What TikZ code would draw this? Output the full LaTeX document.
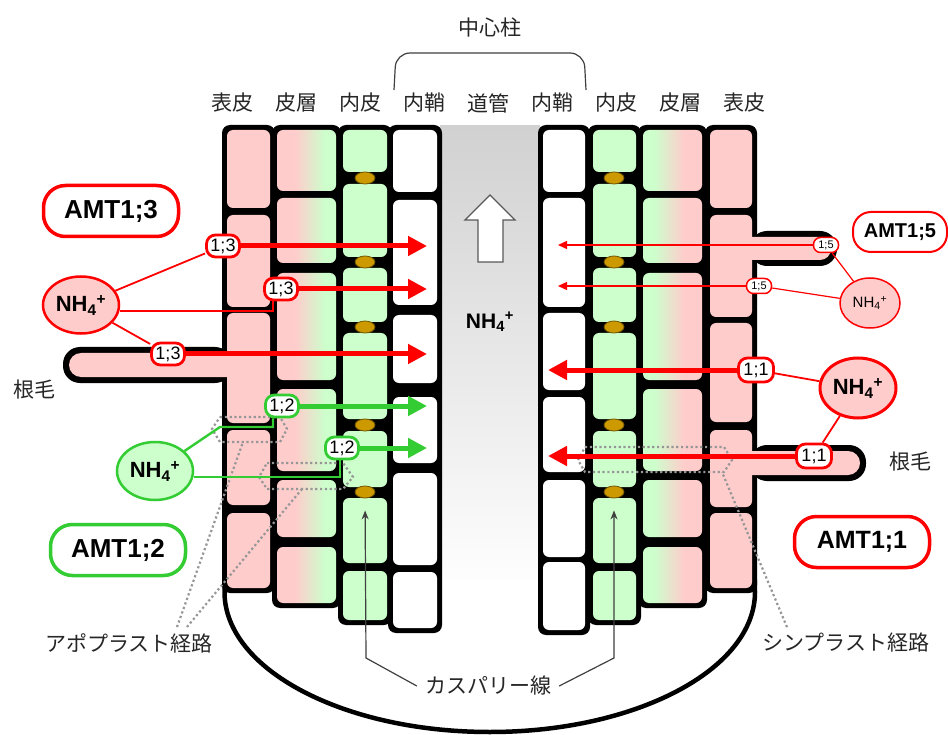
\documentclass[tikz,border=0pt]{standalone}
\usepackage{fontspec}
\setmainfont{Liberation Sans}
\newfontfamily\jpfont{Noto Sans CJK JP}
\usepackage{tikz}
\usetikzlibrary{shapes.geometric,arrows.meta,positioning,calc}

\definecolor{cellpink}{RGB}{255,204,204}
\definecolor{cellgreen}{RGB}{204,255,204}
\definecolor{caspbrown}{RGB}{204,153,0}
\definecolor{amtred}{RGB}{255,0,0}
\definecolor{amtgreen}{RGB}{51,204,51}
\definecolor{routegray}{RGB}{150,150,150}

% cortex cells fade from epidermis pink to endodermis green
\pgfdeclarehorizontalshading{cortexL}{100bp}{color(0bp)=(cellpink); color(40bp)=(cellpink); color(66bp)=(cellgreen); color(100bp)=(cellgreen)}
\pgfdeclarehorizontalshading{cortexR}{100bp}{color(0bp)=(cellgreen); color(34bp)=(cellgreen); color(60bp)=(cellpink); color(100bp)=(cellpink)}

\newcommand{\nhfour}{NH\textsubscript{4}\textsuperscript{+}}

\begin{document}
\begin{tikzpicture}[
    x=1pt, y=-1pt,
    wallblk/.style={fill=black, rounded corners=8pt},
    epicell/.style={fill=cellpink, rounded corners=6pt},
    cortexcell/.style={rounded corners=6pt},
    endocell/.style={fill=cellgreen, rounded corners=6pt},
    pericell/.style={fill=white, rounded corners=6pt},
    caspband/.style={ellipse, draw=caspbrown!55!black, line width=0.8pt, fill=caspbrown, minimum width=20pt, minimum height=12pt, inner sep=0pt},
    jplabel/.style={font=\jpfont\fontsize{21}{24}\selectfont, text=black!85, inner sep=0pt},
    amtpill/.style={draw, fill=white, line width=3.5pt, rounded corners=22pt, minimum width=135pt, minimum height=51pt, inner sep=0pt, font=\bfseries\fontsize{26}{28}\selectfont},
    nhion/.style={ellipse, draw, line width=2.5pt, inner sep=0pt, font=\bfseries\fontsize{22}{24}\selectfont},
    sitebox/.style={draw, fill=white, line width=2.8pt, rounded corners=9pt, minimum width=33pt, minimum height=22pt, inner sep=0pt, font=\fontsize{18}{19}\selectfont},
    tinybox/.style={draw=amtred, fill=white, line width=1.5pt, rounded corners=7pt, minimum width=25pt, minimum height=15pt, inner sep=0pt, font=\fontsize{11}{12}\selectfont},
    uptake/.style={line width=5pt, -{Triangle[length=19pt,width=19pt]}},
    thinuptake/.style={amtred, line width=1.4pt, -{Triangle[length=9pt,width=8pt]}},
    redlink/.style={amtred, line width=1.8pt},
    greenlink/.style={amtgreen, line width=2.4pt},
    routeloop/.style={routegray, line width=2.2pt, dash pattern=on 2.2pt off 2.6pt},
    caspline/.style={black!75, line width=1.2pt, -{Stealth[length=9pt,width=7pt]}},
    bracketline/.style={black!75, line width=1.2pt, rounded corners=14pt}
]
    \useasboundingbox[fill=white] (0,0) rectangle (948,735);

    % Stele (grey centre) and root tip outline
    \shade[top color=black!18, middle color=black!12, bottom color=white] (440,126) rectangle (540,594);
    \draw[line width=4.5pt, fill=white] (224.5,580) -- (224.5,592)
        arc[start angle=180, end angle=0, x radius=265.25, y radius=140] -- (754.75,580);

    % Root hairs (outline)
    \fill[black, rounded corners=17pt] (63,347) rectangle (232,383);
    \fill[black, rounded corners=17pt] (750,231) rectangle (837,266);
    \fill[black, rounded corners=17pt] (750,445) rectangle (866,481);

    % Cell walls
    \foreach \xa/\xb/\yb in {222/275/593, 272/341/608, 338/392/625, 388/442/633,
                             538/590/635, 588/641/625, 638/707/608, 705/757/593}
        \fill[wallblk] (\xa,125) rectangle (\xb,\yb);

    % Epidermis
    \foreach \ya/\yb in {130/208,215/307,313/423,430/505,513/588}
        \fill[epicell] (227,\ya) rectangle (270,\yb);
    \foreach \ya/\yb in {130/208,215/317,323/422,430/507,513/588}
        \fill[epicell] (710,\ya) rectangle (752,\yb);

    % Cortex
    \foreach \ya/\yb in {130/191,198/263,273/380,389/471,480/537,547/603} {
        \shade[cortexcell, shading=cortexL] (277,\ya) rectangle (336,\yb);
        \shade[cortexcell, shading=cortexR] (643,\ya) rectangle (702,\yb);
    }

    % Endodermis
    \foreach \ya/\yb in {130/172,184/257,268/322,333/419,431/487,498/563,571/620} {
        \fill[endocell] (343,\ya) rectangle (387,\yb);
        \fill[endocell] (593,\ya) rectangle (636,\yb);
    }

    % Pericycle
    \foreach \ya/\yb in {130/192,200/305,315/383,397/463,473/565,572/628}
        \fill[pericell] (393,\ya) rectangle (437,\yb);
    \foreach \ya/\yb in {130/192,198/307,313/390,397/472,480/557,562/630}
        \fill[pericell] (543,\ya) rectangle (585,\yb);

    % Root hairs (cytoplasm)
    \fill[cellpink, rounded corners=12pt] (69,353) rectangle (250,377);
    \fill[cellpink, rounded corners=11pt] (730,237) rectangle (831,260);
    \fill[cellpink, rounded corners=12pt] (730,451) rectangle (860,475);

    % Casparian strips
    \foreach \y in {178,262,327,425,492} {
        \node[caspband] (cl\y) at (365,\y) {};
        \node[caspband] (cr\y) at (614,\y) {};
    }

    % Xylem flow
    \draw[black!65, line width=1.3pt, fill=white] (478,262) -- (478,220) -- (465,220)
        -- (490,195) -- (515,220) -- (503,220) -- (503,262) -- cycle;
    \node[font=\bfseries\fontsize{21}{24}\selectfont] (nhC) at (490,322) {\nhfour};

    % Tissue names
    \foreach \name [count=\i from 0] in {表皮,皮層,内皮,内鞘,道管,内鞘,内皮,皮層,表皮}
        \node[jplabel] (lab\i) at (232+64*\i,103) {\name};
    \node[jplabel] (stele) at (490,27) {中心柱};
    \draw[bracketline] (394,90) -- (396,53) -- (584,53) -- (586,90);
    \node[jplabel] (hairL) at (34,390) {根毛};
    \node[jplabel] (hairR) at (910,462) {根毛};

    % Apoplastic / symplastic routes
    \draw[routeloop] (220,417) -- (280,417) -- (287,429) -- (280,442) -- (220,442) -- (212,429) -- cycle;
    \draw[routeloop] (267,463) -- (343,463) -- (353,477) -- (343,489) -- (267,489) -- (259,477) -- cycle;
    \draw[routeloop] (585,447) -- (724,447) -- (732,460) -- (724,472) -- (585,472) -- (578,460) -- cycle;
    \coordinate (loopA) at (243,442);
    \coordinate (loopB) at (302,489);
    \coordinate (loopC) at (722,472);
    \node[jplabel] (apo) at (129,643) {アポプラスト経路};
    \node[jplabel] (sym) at (846,643) {シンプラスト経路};
    \draw[routeloop] ([xshift=48pt,yshift=6pt]apo.north) -- (loopA);
    \draw[routeloop] ([xshift=58pt,yshift=6pt]apo.north) -- (loopB);
    \draw[routeloop] ([xshift=-59pt,yshift=6pt]sym.north) -- (loopC);

    % Casparian line label
    \node[jplabel] (casp) at (488,686) {カスパリー線};
    \coordinate (kinkL) at (366,658);
    \coordinate (kinkR) at (614,658);
    \draw[caspline, shorten >=12pt] ([xshift=-8pt]casp.west) -- (kinkL) -- (cl492);
    \draw[caspline, shorten >=12pt] ([xshift=8pt]casp.east) -- (kinkR) -- (cr492);

    % Arrow tips
    \coordinate (tipL) at (427,0);
    \coordinate (tipR) at (548,0);
    \coordinate (tipRs) at (558,0);

    % AMT1;3
    \node[amtpill, draw=amtred] (amt13) at (111,211) {AMT1;3};
    \node[nhion, draw=amtred, fill=cellpink, minimum width=76pt, minimum height=57pt] (nhL) at (81,305) {\nhfour};
    \node[sitebox, draw=amtred] (s13a) at (223,246) {1;3};
    \node[sitebox, draw=amtred] (s13b) at (281,289) {1;3};
    \node[sitebox, draw=amtred] (s13c) at (168,354) {1;3};
    \draw[redlink] (nhL) -- (s13a);
    \draw[redlink] ([yshift=-6pt]nhL.east) -| ([xshift=-8pt]s13b.south);
    \draw[redlink] (nhL) -- (s13c);
    \draw[uptake, amtred] (s13a) -- (s13a -| tipL);
    \draw[uptake, amtred] (s13b) -- (s13b -| tipL);
    \draw[uptake, amtred] (s13c) -- (s13c -| tipL);

    % AMT1;2
    \node[amtpill, draw=amtgreen] (amt12) at (118,550) {AMT1;2};
    \node[nhion, draw=amtgreen, fill=cellgreen, minimum width=76pt, minimum height=58pt] (nhG) at (155,471) {\nhfour};
    \node[sitebox, draw=amtgreen] (s12a) at (282,406) {1;2};
    \node[sitebox, draw=amtgreen] (s12b) at (342,448) {1;2};
    \draw[greenlink] (nhG) -- (220,427) -| ([xshift=-9pt]s12a.south);
    \draw[greenlink] ([yshift=-6pt]nhG.east) -| ([xshift=-2pt]s12b.south);
    \draw[uptake, amtgreen] (s12a) -- (s12a -| tipL);
    \draw[uptake, amtgreen] (s12b) -- (s12b -| tipL);

    % AMT1;5
    \node[amtpill, draw=amtred, line width=2pt, minimum width=94pt, minimum height=40pt, rounded corners=18pt, font=\bfseries\fontsize{20}{22}\selectfont] (amt15) at (900,232) {AMT1;5};
    \node[nhion, draw=amtred, fill=cellpink, line width=1.5pt, minimum width=60pt, minimum height=50pt, font=\fontsize{15}{17}\selectfont] (nhS) at (870,303) {\nhfour};
    \node[tinybox] (s15a) at (826,245) {1;5};
    \node[tinybox] (s15b) at (759,286) {1;5};
    \draw[redlink, line width=1.2pt] (nhS) -- (s15a);
    \draw[redlink, line width=1.2pt] (nhS) -- (s15b);
    \draw[thinuptake] (s15a) -- (s15a -| tipRs);
    \draw[thinuptake] (s15b) -- (s15b -| tipRs);

    % AMT1;1
    \node[amtpill, draw=amtred, font=\bfseries\fontsize{25}{28}\selectfont] (amt11) at (862,542) {AMT1;1};
    \node[nhion, draw=amtred, fill=cellpink, line width=3pt, minimum width=76pt, minimum height=60pt] (nhR) at (858,388) {\nhfour};
    \node[sitebox, draw=amtred, minimum width=35pt, minimum height=24pt] (s11a) at (756,370) {1;1};
    \node[sitebox, draw=amtred, minimum width=35pt, minimum height=24pt] (s11b) at (814,456) {1;1};
    \draw[redlink] (nhR) -- (s11a);
    \draw[redlink] (nhR) -- (s11b);
    \draw[uptake, amtred] (s11a) -- (s11a -| tipR);
    \draw[uptake, amtred] (s11b) -- (s11b -| tipR);

\end{tikzpicture}
\end{document}
